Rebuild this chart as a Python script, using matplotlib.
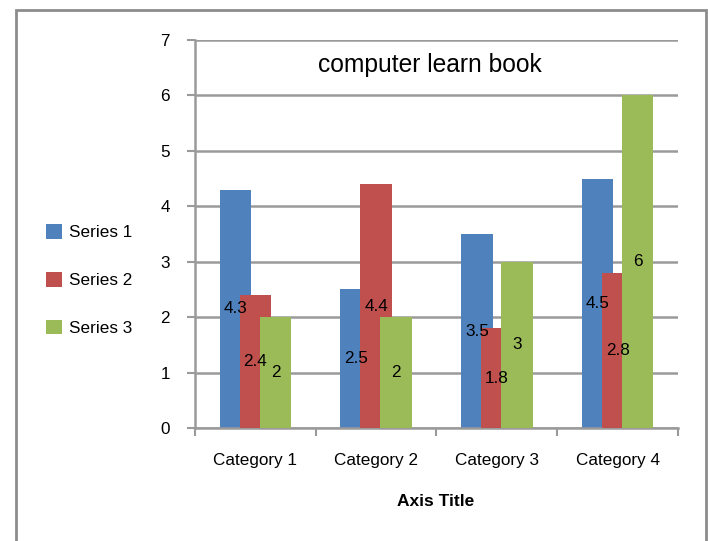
import numpy as np
import matplotlib
matplotlib.use('Agg')
from matplotlib import pyplot as plt
from matplotlib.patches import Rectangle, Patch

plt.rcParams['font.family'] = ['Liberation Sans', 'DejaVu Sans']

categories = ['Category 1', 'Category 2', 'Category 3', 'Category 4']
series_names = ['Series 1', 'Series 2', 'Series 3']
series1 = [4.3, 2.5, 3.5, 4.5]
series2 = [2.4, 4.4, 1.8, 2.8]
series3 = [2, 2, 3, 6]
colors = ['#4F81BD', '#C0504D', '#9BBB59']
grid_col = '#9a9a9a'
fs = 12.3

W, H = 708, 541
fig = plt.figure(figsize=(W / 100, H / 100), dpi=100)
ax = fig.add_axes([195 / W, (H - 428) / H, (678 - 195) / W, (428 - 40) / H])

x = np.arange(len(categories))
width = 0.26
step = 0.166
for i, (vals, col) in enumerate(zip([series1, series2, series3], colors)):
    xs = x + (i - 1) * step
    ax.bar(xs, vals, width, color=col, zorder=2 + i)
    for xi, v in zip(xs, vals):
        # labels sit in the middle of each bar
        ax.text(xi, v / 2, '%g' % v, ha='center', va='center', fontsize=fs,
                color='black', zorder=10)

ax.set_xlim(-0.5, len(categories) - 0.5)
ax.set_ylim(0, 7)
ax.set_yticks(range(8))
ax.yaxis.grid(True, color=grid_col, linewidth=1.8, zorder=0)
ax.set_axisbelow(True)

ax.set_xticks(np.arange(-0.5, len(categories)), labels=[''] * (len(categories) + 1))
ax.set_xticks(x, labels=categories, minor=True)
ax.tick_params(axis='x', which='major', length=6, width=1.5, color=grid_col, direction='out')
ax.tick_params(axis='x', which='minor', length=0, pad=18, labelsize=fs)
ax.tick_params(axis='y', length=6, width=1.5, color=grid_col, pad=12, labelsize=fs)

for s in ['top', 'right']:
    ax.spines[s].set_visible(False)
for s in ['left', 'bottom']:
    ax.spines[s].set_color(grid_col)
    ax.spines[s].set_linewidth(1.8)

ax.text(0.4865, (428 - 72) / 388, 'computer learn book', transform=ax.transAxes,
        ha='center', va='baseline', fontsize=17.7)

fig.text(436 / W, 1 - 502 / H, 'Axis Title', ha='center', va='center',
         fontsize=12.5, fontweight='bold')

handles = [Patch(facecolor=c, edgecolor='none') for c in colors]
fig.legend(handles, series_names, loc='center left',
           bbox_to_anchor=(46 / W, 1 - 280 / H), frameon=False, fontsize=fs,
           handlelength=0.95, handleheight=0.95, handletextpad=0.4,
           labelspacing=1.85, borderpad=0, borderaxespad=0)

fig.patches.append(Rectangle((16 / W, -0.02), (706 - 16) / W, (H - 10) / H + 0.02,
                             transform=fig.transFigure, fill=False,
                             edgecolor='#8c8c8c', linewidth=2))

fig.savefig('out.png', dpi=100)
